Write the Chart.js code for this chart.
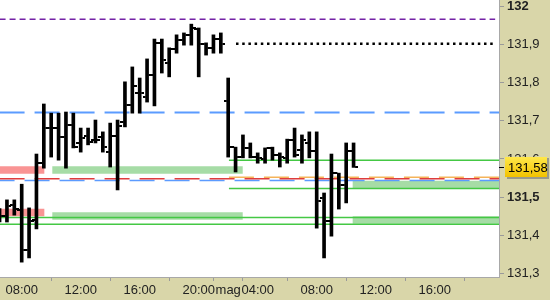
<!DOCTYPE html>
<html>
<head>
<meta charset="utf-8">
<script src="https://cdn.jsdelivr.net/npm/chart.js@4.4.1/dist/chart.umd.min.js"></script>
<style>
body { margin: 0; background: #fff; }
#wrap { width: 550px; height: 300px; }
</style>
</head>
<body>
<div id="wrap"><canvas id="c"></canvas></div>
<script>
// 30 minute bars, one per slot
var opens = [131.445, 131.452, 131.480, 131.466, 131.362, 131.440, 131.589, 131.681, 131.681, 131.658,
    131.689, 131.642, 131.660, 131.650, 131.658, 131.618, 131.660, 131.697, 131.741, 131.773,
    131.762, 131.820, 131.904, 131.851, 131.888, 131.912, 131.925, 131.940, 131.901, 131.891,
    131.914, 131.752, 131.631, 131.605, 131.629, 131.605, 131.600, 131.629, 131.610, 131.603,
    131.650, 131.624, 131.642, 131.621, 131.498, 131.438, 131.563, 131.532, 131.621];
var highs = [131.470, 131.493, 131.493, 131.534, 131.472, 131.613, 131.744, 131.720, 131.720, 131.723,
    131.720, 131.681, 131.681, 131.702, 131.671, 131.694, 131.702, 131.802, 131.841, 131.812,
    131.862, 131.914, 131.914, 131.891, 131.925, 131.930, 131.953, 131.943, 131.904, 131.925,
    131.930, 131.812, 131.631, 131.663, 131.642, 131.616, 131.629, 131.631, 131.616, 131.652,
    131.681, 131.663, 131.671, 131.671, 131.511, 131.613, 131.563, 131.642, 131.642];
var lows = [131.435, 131.435, 131.453, 131.330, 131.341, 131.417, 131.576, 131.605, 131.597, 131.576,
    131.629, 131.618, 131.637, 131.642, 131.618, 131.579, 131.519, 131.684, 131.720, 131.720,
    131.749, 131.739, 131.825, 131.815, 131.877, 131.898, 131.898, 131.815, 131.872, 131.877,
    131.877, 131.605, 131.566, 131.603, 131.603, 131.589, 131.589, 131.597, 131.579, 131.589,
    131.605, 131.589, 131.603, 131.419, 131.341, 131.398, 131.469, 131.485, 131.578];
var closes = [131.452, 131.478, 131.470, 131.362, 131.438, 131.589, 131.681, 131.681, 131.658, 131.689,
    131.631, 131.655, 131.645, 131.650, 131.631, 131.660, 131.686, 131.741, 131.791, 131.773,
    131.820, 131.904, 131.859, 131.888, 131.912, 131.925, 131.943, 131.901, 131.891, 131.914,
    131.901, 131.631, 131.605, 131.629, 131.605, 131.603, 131.629, 131.610, 131.605, 131.650,
    131.610, 131.650, 131.621, 131.490, 131.438, 131.563, 131.532, 131.621, 131.580];

var xTickIdx = [3, 11, 19, 27, 31, 35, 43, 51, 59, 67];
var xTickLabels = ['08:00', '12:00', '16:00', '20:00', 'mag', '04:00', '08:00', '12:00', '16:00', ''];
var yTicks = [131.3, 131.4, 131.5, 131.6, 131.7, 131.8, 131.9, 132];

// levels: [price, from slot, to slot]
var purpleLevel = [131.966, 0, 67.2];
var dottedLevel = [131.902, 32.06, 67.2];
var blueLevel = [131.722, 0, 68];
var redLevel = [131.548, 0, 68];
var blueLevel2 = [131.544, 0, 68];
var orangeLevel = [131.552, 31.1, 68];
var greenLevels = [[131.597, 31.1, 68], [131.523, 31.1, 68], [131.447, 0, 68], [131.429, 0, 68]];
var redZones = [[131.571, 0, 6.07], [131.460, 0, 6.07]];
var greenZones = [[131.571, 7.15, 32.97], [131.451, 7.15, 32.97], [131.533, 47.88, 68], [131.440, 47.88, 68]];

var font = "'Liberation Sans', Arial, sans-serif";

function tickImg(left) {
    var c = document.createElement('canvas');
    c.width = 9;
    c.height = 2;
    var g = c.getContext('2d');
    g.fillStyle = '#000';
    g.fillRect(left ? 0 : 6, 0, 3, 2);
    return c;
}

function levelSet(l, color, width, dash, offset, order) {
    return {
        type: 'line',
        data: [{x: l[1], y: l[0]}, {x: l[2], y: l[0]}],
        borderColor: color,
        borderWidth: width,
        borderDash: dash || [],
        borderDashOffset: offset || 0,
        pointRadius: 0,
        order: order
    };
}

var datasets = [
    {
        type: 'bar',
        data: highs.map(function (h, i) { return {x: i, y: [lows[i], h]}; }),
        backgroundColor: '#000',
        barThickness: 3,
        order: 0
    },
    {
        type: 'line',
        showLine: false,
        data: opens.map(function (o, i) { return {x: i, y: o}; }),
        pointStyle: tickImg(true),
        pointRadius: 3,
        order: 0
    },
    {
        type: 'line',
        showLine: false,
        data: closes.map(function (c, i) { return {x: i, y: c}; }),
        pointStyle: tickImg(false),
        pointRadius: 3,
        order: 0
    },
    levelSet(purpleLevel, '#7422a6', 1.5, [6, 4], 0, 1),
    levelSet(dottedLevel, '#000', 2.5, [2.5, 3.7], 0, 1),
    levelSet(blueLevel, '#5b9bff', 2, [25, 10], 0, 1),
    levelSet(orangeLevel, '#f5b45a', 1.5, [25, 10], 0, 1),
    levelSet(redLevel, '#e03c3c', 1.5, [25, 10], 0, 1),
    levelSet(blueLevel2, '#5b9bff', 1.5, [25, 10], 10, 1)
];
greenLevels.forEach(function (l) { datasets.push(levelSet(l, '#44c844', 1.5, null, 0, 1)); });
redZones.forEach(function (l) { datasets.push(levelSet(l, '#f99494', 7.5, null, 0, 2)); });
greenZones.forEach(function (l) { datasets.push(levelSet(l, '#a6dca6', 7.5, null, 0, 2)); });

var panelBg = {
    id: 'panelBg',
    beforeDraw: function (chart) {
        var ctx = chart.ctx, a = chart.chartArea;
        ctx.save();
        ctx.fillStyle = '#d9d6a9';
        ctx.fillRect(0, 0, chart.width, chart.height);
        ctx.fillStyle = '#fff';
        ctx.fillRect(a.left, a.top, a.right - a.left, a.bottom - a.top);
        ctx.restore();
    }
};

var lastPrice = {
    id: 'lastPrice',
    afterDraw: function (chart) {
        var ctx = chart.ctx, a = chart.chartArea;
        var v = closes[closes.length - 1];
        var y = Math.round(chart.scales.y.getPixelForValue(v));
        ctx.save();
        ctx.strokeStyle = '#000';
        ctx.lineWidth = 1;
        ctx.beginPath();
        ctx.moveTo(a.right, y + 0.5);
        ctx.lineTo(a.right + 5, y + 0.5);
        ctx.stroke();
        ctx.fillStyle = '#9a9a8a';
        ctx.fillRect(507, y - 9, 42, 21);
        var g = ctx.createLinearGradient(0, y - 10, 0, y + 10);
        g.addColorStop(0, '#ffe84a');
        g.addColorStop(1, '#f2c200');
        ctx.fillStyle = g;
        ctx.fillRect(505, y - 10, 42, 20);
        ctx.fillStyle = '#000';
        ctx.font = '13px ' + font;
        ctx.textBaseline = 'middle';
        ctx.fillText(v.toFixed(2).replace('.', ','), 508, y + 1);
        ctx.restore();
    }
};

new Chart(document.getElementById('c'), {
    type: 'bar',
    data: {datasets: datasets},
    plugins: [panelBg, lastPrice],
    options: {
        responsive: true,
        maintainAspectRatio: false,
        animation: false,
        layout: {padding: 0, autoPadding: false},
        plugins: {legend: {display: false}, tooltip: {enabled: false}},
        scales: {
            x: {
                type: 'linear',
                min: 0.058,
                max: 67.72,
                offset: false,
                afterBuildTicks: function (s) { s.ticks = xTickIdx.map(function (v) { return {value: v}; }); },
                afterFit: function (s) { s.height = 23; s.paddingLeft = 0; s.paddingRight = 0; },
                grid: {drawOnChartArea: false, drawTicks: true, tickLength: 4, color: '#9a9a9a'},
                border: {color: '#a8a8a8'},
                ticks: {
                    autoSkip: false,
                    maxRotation: 0,
                    padding: 2,
                    color: '#222',
                    font: {family: font, size: 13},
                    callback: function (v, i) { return xTickLabels[i]; }
                }
            },
            y: {
                position: 'right',
                min: 131.2911,
                max: 132.0162,
                afterBuildTicks: function (s) { s.ticks = yTicks.map(function (v) { return {value: v}; }); },
                afterFit: function (s) { s.width = 51; s.paddingTop = 0; s.paddingBottom = 0; },
                grid: {drawOnChartArea: false, drawTicks: true, tickLength: 5, color: '#9a9a9a'},
                border: {color: '#a8a8a8'},
                ticks: {
                    padding: 3,
                    color: '#222',
                    font: function (c) {
                        var v = c.tick ? c.tick.value : 0;
                        var b = Math.abs(v - 132) < 1e-6 || Math.abs(v - 131.5) < 1e-6;
                        return {family: font, size: 13, weight: b ? 'bold' : 'normal'};
                    },
                    callback: function (v) {
                        return Math.abs(v - 132) < 1e-6 ? '132' : v.toFixed(1).replace('.', ',');
                    }
                }
            }
        }
    }
});
</script>
</body>
</html>
